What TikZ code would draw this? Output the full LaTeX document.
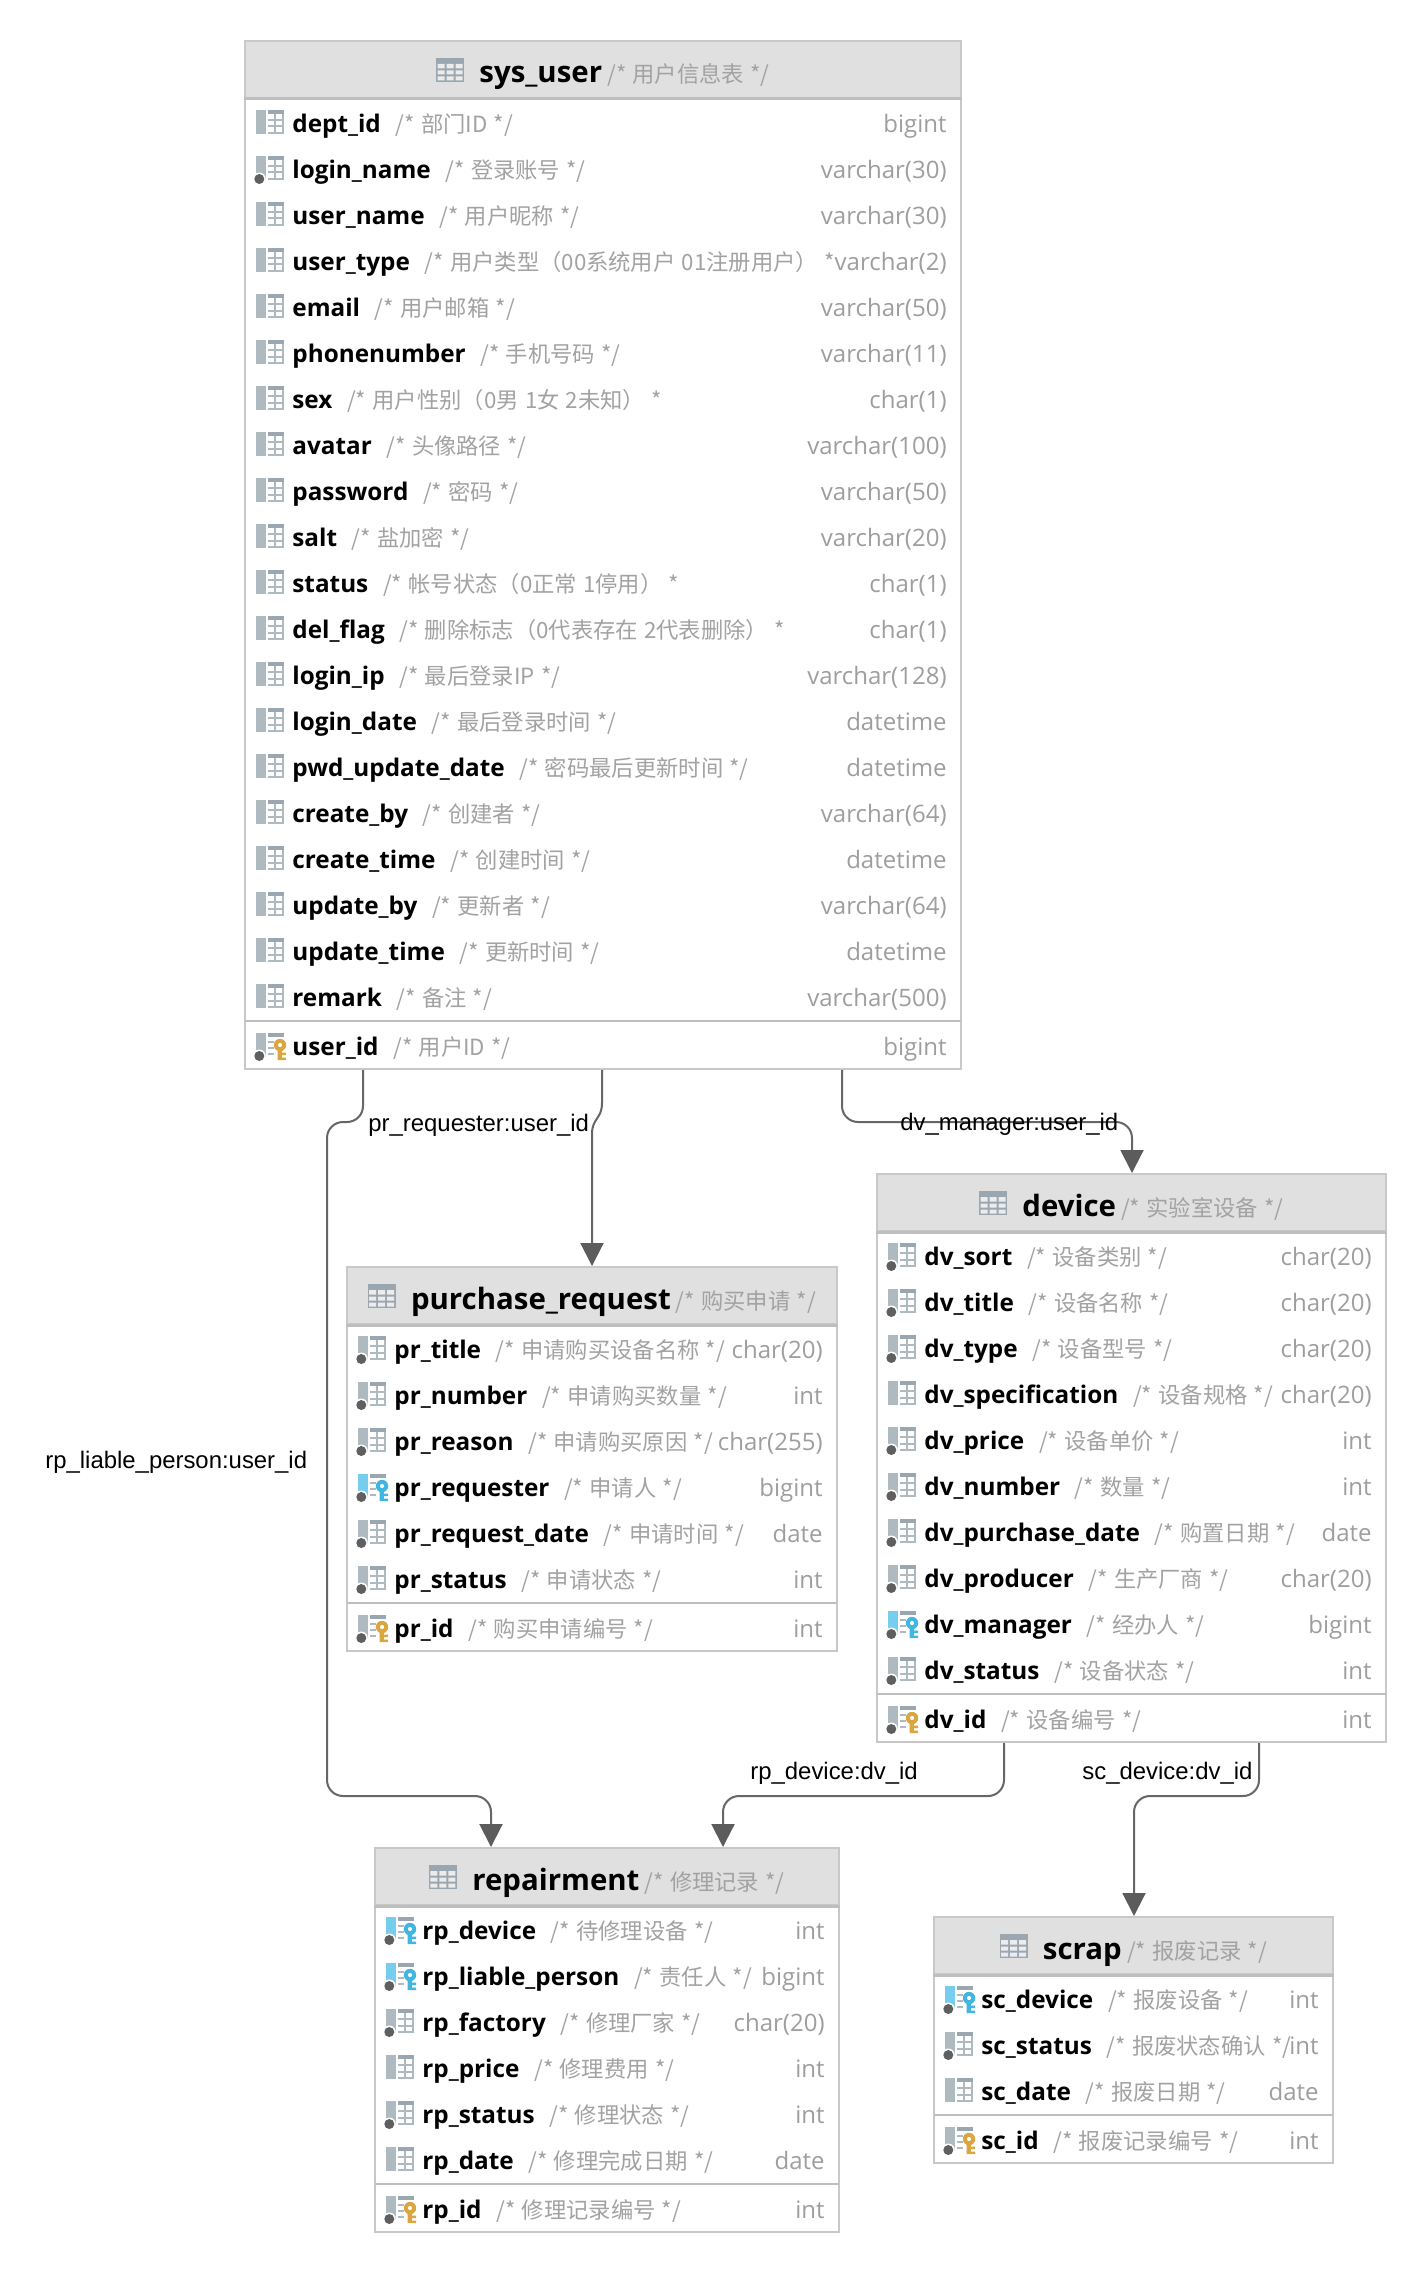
\documentclass[tikz,border=0pt]{standalone}
\usepackage{fontspec}
\usetikzlibrary{arrows.meta,calc,fit}
\setmainfont{Open Sans}
\newfontfamily\notefont[WordSpace=1.25]{Noto Sans CJK SC}
\newfontfamily\relfont{Liberation Sans}
\definecolor{barlight}{HTML}{AEB9C0}
\definecolor{bardark}{HTML}{9AA7B0}
\definecolor{barblue}{HTML}{76CDEE}
\definecolor{keygold}{HTML}{DBA540}
\definecolor{keyblue}{HTML}{40B6E0}
\definecolor{dotgrey}{HTML}{5F5F5F}
\definecolor{notegrey}{HTML}{A2A2A2}
\definecolor{typegrey}{HTML}{9E9E9E}
\definecolor{frame}{HTML}{C8C8C8}
\definecolor{headfill}{HTML}{E0E0E0}
\definecolor{headrule}{HTML}{BEBEBE}
\definecolor{linkgrey}{HTML}{666666}
\newcommand{\keybody}[1]{
    \fill[white] (24,12) circle (8);
    \fill[#1,even odd rule] (24,12) circle (6.2) (24,12) circle (2.2);
    \fill[#1] (21.7,17) rectangle (25.9,27) (25.9,19.5) rectangle (30,22) (25.9,24.5) rectangle (30,27);
    \fill[bardark] (12,0) rectangle (28,4);
    \draw[barlight,line width=1pt] (12,9) -- (18,9) (12,15) -- (18,15) (12,21) -- (18,21);
}
\newcommand{\dotbody}{
    \fill[white] (3.3,23) circle (6.5);
    \fill[dotgrey] (3.3,23) circle (5);
}
\newcommand{\colbody}{
    \fill[bardark] (12,0) rectangle (28,4);
    \draw[barlight,line width=1pt] (12,10) -- (28,10) (12,16.5) -- (28,16.5) (12,23) -- (28,23)
        (18.5,4) -- (18.5,24) (27.2,4) -- (27.2,24);
}
\tikzset{
    plaincol/.pic={\fill[barlight] (0,0) rectangle (9.5,24); \colbody},
    dotcol/.pic={\fill[barlight] (0,0) rectangle (9.5,24); \colbody \dotbody},
    fkcol/.pic={\fill[barblue] (0,0) rectangle (9.5,24); \keybody{keyblue} \dotbody},
    pkcol/.pic={\fill[barlight] (0,0) rectangle (9.5,24); \keybody{keygold} \dotbody},
    tableicon/.pic={
        \fill[bardark] (0,0) rectangle (28,24);
        \fill[headfill!60!white] (1.5,6) rectangle (8.5,10.5) (10.5,6) rectangle (17.5,10.5) (19.5,6) rectangle (26.5,10.5)
            (1.5,12.5) rectangle (8.5,16.5) (10.5,12.5) rectangle (17.5,16.5) (19.5,12.5) rectangle (26.5,16.5)
            (1.5,18.5) rectangle (8.5,22.5) (10.5,18.5) rectangle (17.5,22.5) (19.5,18.5) rectangle (26.5,22.5);
    },
    tablebox/.style={draw=frame,line width=1pt,inner sep=0pt,fill=white},
    headbox/.style={draw=frame,line width=1pt,inner sep=0pt,fill=headfill},
    headtext/.style={inner sep=0pt,anchor=base},
    colname/.style={inner sep=0pt,anchor=base west,font=\fontsize{12.15}{14}\selectfont\bfseries},
    colnote/.style={inner sep=0pt,anchor=base west,text=notegrey,font=\notefont\fontsize{11.15}{13}\selectfont},
    coltype/.style={inner sep=0pt,anchor=base east,text=typegrey,font=\fontsize{12}{14}\selectfont},
    fkline/.style={draw=linkgrey,line width=1pt,rounded corners=8pt,-{Triangle[length=11.5pt,width=11.5pt,color=linkgrey!90!black]}},
    rellabel/.style={inner sep=0pt,anchor=base west,font=\relfont\fontsize{11.95}{14}\selectfont},
}
% id, left, right, y, name, note, type, icon
\newcommand{\dbrow}[8]{
    \pic at (#2+11,#4-12) {#8};
    \node[colname] (#1_name) at (#2+47,#4+10.5) {#5};
    \node[colnote] (#1_note) at ($(#1_name.base east)+(14,0)$) {#6};
    \node[coltype] (#1_type) at (#3-14,#4+10.5) {#7};
}
% name, comment, left, top, right, columns, column list, key column
\newcommand{\dbtable}[8]{
    \pgfmathsetmacro{\pkrow}{#4+81+46*(#6-1)+49}
    \node[tablebox,fit={(#3,#4) (#5,\pkrow+24)}] (#1) {};
    \node[headbox,fit={(#3,#4) (#5,#4+57)}] (#1_head) {};
    \draw[headrule,line width=1.5pt] (#1_head.south west) -- (#1_head.south east);
    \node[headtext] (#1_title) at ({(#3+#5)/2+21.5},#4+42)
        {{\fontsize{14.7}{18}\selectfont\bfseries\detokenize{#1}} {\notefont\color{notegrey}\fontsize{11.15}{13}\selectfont #2}};
    \pic at ($(#1_title.base west)+(-43,-25)$) {tableicon};
    \foreach \fname/\fnote/\ftype/\ficon [count=\i] in {#7}{
        \pgfmathsetmacro{\rowy}{#4+81+46*(\i-1)}
        \dbrow{#1_\i}{#3}{#5}{\rowy}{\fname}{\fnote}{\ftype}{\ficon}
    }
    \draw[headrule,line width=1pt] (#3,\pkrow-24) -- (#5,\pkrow-24);
    \dbrow{#1_key}{#3}{#5}{\pkrow}#8
}
\begin{document}
\begin{tikzpicture}[x=0.5pt,y=-0.5pt]
    \useasboundingbox (0,0) rectangle (1428,2274);
    \dbtable{sys_user}{/* 用户信息表 */}{245}{41}{961}{20}{
        dept\_id/{/* 部门ID */}/bigint/plaincol,
        login\_name/{/* 登录账号 */}/varchar(30)/dotcol,
        user\_name/{/* 用户昵称 */}/varchar(30)/plaincol,
        user\_type/{/* 用户类型（00系统用户 01注册用户） *}/varchar(2)/plaincol,
        email/{/* 用户邮箱 */}/varchar(50)/plaincol,
        phonenumber/{/* 手机号码 */}/varchar(11)/plaincol,
        sex/{/* 用户性别（0男 1女 2未知） *}/char(1)/plaincol,
        avatar/{/* 头像路径 */}/varchar(100)/plaincol,
        password/{/* 密码 */}/varchar(50)/plaincol,
        salt/{/* 盐加密 */}/varchar(20)/plaincol,
        status/{/* 帐号状态（0正常 1停用） *}/char(1)/plaincol,
        del\_flag/{/* 删除标志（0代表存在 2代表删除） *}/char(1)/plaincol,
        login\_ip/{/* 最后登录IP */}/varchar(128)/plaincol,
        login\_date/{/* 最后登录时间 */}/datetime/plaincol,
        pwd\_update\_date/{/* 密码最后更新时间 */}/datetime/plaincol,
        create\_by/{/* 创建者 */}/varchar(64)/plaincol,
        create\_time/{/* 创建时间 */}/datetime/plaincol,
        update\_by/{/* 更新者 */}/varchar(64)/plaincol,
        update\_time/{/* 更新时间 */}/datetime/plaincol,
        remark/{/* 备注 */}/varchar(500)/plaincol%
    }{{user\_id}{/* 用户ID */}{bigint}{pkcol}}
    \dbtable{purchase_request}{/* 购买申请 */}{347}{1267}{837}{6}{
        pr\_title/{/* 申请购买设备名称 */}/char(20)/dotcol,
        pr\_number/{/* 申请购买数量 */}/int/dotcol,
        pr\_reason/{/* 申请购买原因 */}/char(255)/dotcol,
        pr\_requester/{/* 申请人 */}/bigint/fkcol,
        pr\_request\_date/{/* 申请时间 */}/date/dotcol,
        pr\_status/{/* 申请状态 */}/int/dotcol%
    }{{pr\_id}{/* 购买申请编号 */}{int}{pkcol}}
    \dbtable{device}{/* 实验室设备 */}{877}{1174}{1386}{10}{
        dv\_sort/{/* 设备类别 */}/char(20)/dotcol,
        dv\_title/{/* 设备名称 */}/char(20)/dotcol,
        dv\_type/{/* 设备型号 */}/char(20)/dotcol,
        dv\_specification/{/* 设备规格 */}/char(20)/plaincol,
        dv\_price/{/* 设备单价 */}/int/dotcol,
        dv\_number/{/* 数量 */}/int/dotcol,
        dv\_purchase\_date/{/* 购置日期 */}/date/dotcol,
        dv\_producer/{/* 生产厂商 */}/char(20)/dotcol,
        dv\_manager/{/* 经办人 */}/bigint/fkcol,
        dv\_status/{/* 设备状态 */}/int/dotcol%
    }{{dv\_id}{/* 设备编号 */}{int}{pkcol}}
    \dbtable{repairment}{/* 修理记录 */}{375}{1848}{839}{6}{
        rp\_device/{/* 待修理设备 */}/int/fkcol,
        rp\_liable\_person/{/* 责任人 */}/bigint/fkcol,
        rp\_factory/{/* 修理厂家 */}/char(20)/dotcol,
        rp\_price/{/* 修理费用 */}/int/plaincol,
        rp\_status/{/* 修理状态 */}/int/dotcol,
        rp\_date/{/* 修理完成日期 */}/date/plaincol%
    }{{rp\_id}{/* 修理记录编号 */}{int}{pkcol}}
    \dbtable{scrap}{/* 报废记录 */}{934}{1917}{1333}{3}{
        sc\_device/{/* 报废设备 */}/int/fkcol,
        sc\_status/{/* 报废状态确认 */}/int/dotcol,
        sc\_date/{/* 报废日期 */}/date/plaincol%
    }{{sc\_id}{/* 报废记录编号 */}{int}{pkcol}}

    \coordinate (liable_a) at (363,1122);
    \coordinate (liable_b) at (327,1796);
    \coordinate (liable_c) at (491,1796);
    \draw[fkline] (sys_user.south -| liable_a) -- (liable_a) -- (liable_a -| liable_b) -- (liable_b) -- (liable_c) -- (liable_c |- repairment.north);
    \coordinate (requester_a) at (602,1103);
    \coordinate (requester_b) at (592,1134);
    \draw[fkline,sharp corners] (sys_user.south -| requester_a) -- (requester_a) .. controls +(0,16) and +(0,-16) .. (requester_b) -- (requester_b |- purchase_request.north);
    \coordinate (manager_a) at (842,1122);
    \coordinate (manager_b) at (1132,1122);
    \draw[fkline] (sys_user.south -| manager_a) -- (manager_a) -- (manager_b) -- (manager_b |- device.north);
    \coordinate (rpdevice_a) at (1004,1796);
    \coordinate (rpdevice_b) at (723,1796);
    \draw[fkline] (device.south -| rpdevice_a) -- (rpdevice_a) -- (rpdevice_b) -- (rpdevice_b |- repairment.north);
    \coordinate (scdevice_a) at (1259,1796);
    \coordinate (scdevice_b) at (1134,1796);
    \draw[fkline] (device.south -| scdevice_a) -- (scdevice_a) -- (scdevice_b) -- (scdevice_b |- scrap.north);

    \node[rellabel] (liable_label) at (45,1468) {rp\_liable\_person:user\_id};
    \node[rellabel] (requester_label) at (368,1131) {pr\_requester:user\_id};
    \node[rellabel] (manager_label) at (900,1130) {dv\_manager:user\_id};
    \node[rellabel] (rpdevice_label) at (750,1779) {rp\_device:dv\_id};
    \node[rellabel] (scdevice_label) at (1082,1779) {sc\_device:dv\_id};
\end{tikzpicture}
\end{document}
